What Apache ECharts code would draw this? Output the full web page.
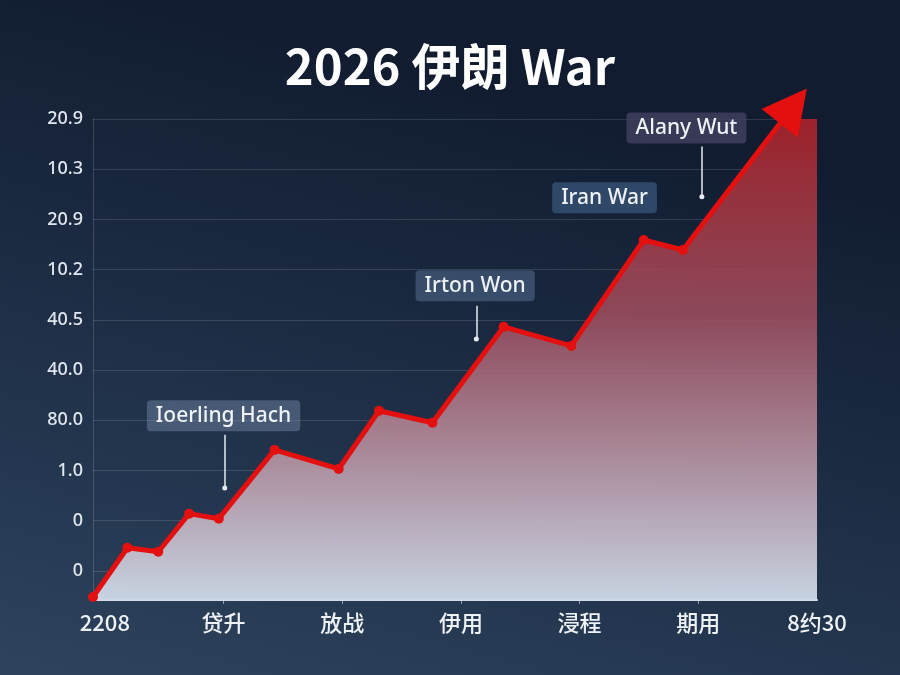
<!DOCTYPE html>
<html>
<head>
<meta charset="utf-8">
<script src="https://cdn.jsdelivr.net/npm/echarts@6/dist/echarts.min.js"></script>
<style>
  html, body { margin: 0; padding: 0; background: #15223a; }
  #main { width: 900px; height: 675px; }
</style>
</head>
<body>
<div id="main"></div>
<script>
// 坐标轴标签
var xLabels = ['2208', '贷升', '放战', '伊用', '浸程', '期用', '8约30'];
var yLabels = ['0', '0', '1.0', '80.0', '40.0', '40.5', '10.2', '20.9', '10.3', '20.9'];

// 折线点 (x 以标签序号为单位, y 以网格线为单位)
var xs = [-0.10, 0.19, 0.45, 0.71, 0.96, 1.43, 1.97, 2.31, 2.76, 3.36, 3.93, 4.54, 4.87, 5.80];
var ys = [-0.52, 0.46, 0.38, 1.14, 1.04, 2.41, 2.03, 3.19, 2.95, 4.86, 4.48, 6.59, 6.39, 9.26];
// 面积延伸到右边界
var areaEndX = 6.0;
var areaEndY = 9.8;

// 注释文字
var notes = ['Ioerling Hach', 'Irton Won', 'Iran War', 'Alany Wut'];
var noteX = [1.00, 3.12, 4.21, 4.90];
var noteY = [3.09, 5.68, 7.43, 8.82];
var noteBg = ['rgba(120,140,170,0.45)', 'rgba(95,125,160,0.45)', 'rgba(70,105,145,0.55)', 'rgba(70,65,100,0.75)'];
// 引线 [x, y起, y止]
var leaders = [[1.01, 2.71, 1.65], [3.13, 5.28, 4.62], [5.03, 8.45, 7.45]];

var myChart = echarts.init(document.getElementById('main'));

var lineData = xs.map(function (x, i) {
    if (i === xs.length - 1) {
        return { value: [x, ys[i]], symbol: 'triangle', symbolSize: [46, 44], symbolRotate: -38 };
    }
    return [x, ys[i]];
});
var areaData = xs.slice(0, xs.length - 1).map(function (x, i) { return [x, ys[i]]; });
areaData.push([areaEndX, areaEndY]);

var markPts = notes.map(function (t, i) {
    return {
        coord: [noteX[i], noteY[i]],
        label: {
            show: true, formatter: t, position: 'inside',
            color: '#eef2f7', fontSize: 21, fontWeight: 500, fontFamily: 'Noto Sans',
            backgroundColor: noteBg[i], borderRadius: 4,
            padding: [5, 9, 5, 9]
        }
    };
});
var markLns = leaders.map(function (l) {
    return [{ coord: [l[0], l[1]] }, { coord: [l[0], l[2]] }];
});

var option = {
    backgroundColor: {
        type: 'linear', x: 0.2, y: 0, x2: 0, y2: 1,
        colorStops: [
            { offset: 0, color: '#111c31' },
            { offset: 0.55, color: '#203149' },
            { offset: 1, color: '#2e435e' }
        ]
    },
    animation: false,
    title: {
        text: '2026 伊朗 War',
        left: 'center',
        top: 37,
        textStyle: { color: '#ffffff', fontSize: 49, fontWeight: 'bold', fontFamily: 'Noto Sans CJK SC' }
    },
    grid: { left: 93, right: 83, top: 119, bottom: 75 },
    xAxis: {
        type: 'value',
        min: -0.10,
        max: 6,
        axisLine: { show: true, onZero: false, lineStyle: { color: '#d3dbe6', width: 2 } },
        axisTick: { show: true, length: 4, customValues: [1, 2, 3, 4, 5], lineStyle: { color: 'rgba(220,228,238,0.6)' } },
        splitLine: { show: false },
        axisLabel: {
            customValues: [0, 1, 2, 3, 4, 5, 6],
            formatter: function (v) { return xLabels[Math.round(v)]; },
            color: '#eef2f7', fontSize: 22, fontWeight: 500, margin: 12, fontFamily: 'Noto Sans CJK SC'
        }
    },
    yAxis: {
        type: 'value',
        min: -0.58,
        max: 9,
        axisLine: { show: true, onZero: false, lineStyle: { color: 'rgba(255,255,255,0.15)' } },
        axisTick: { show: false, customValues: [0, 1, 2, 3, 4, 5, 6, 7, 8, 9] },
        splitLine: { show: true, lineStyle: { color: 'rgba(255,255,255,0.13)' } },
        axisLabel: {
            customValues: [0, 1, 2, 3, 4, 5, 6, 7, 8, 9],
            formatter: function (v) { return yLabels[Math.round(v)]; },
            color: '#e1e7ef', fontSize: 18, fontWeight: 500, margin: 10, fontFamily: 'Noto Sans'
        }
    },
    series: [
        {
            type: 'line',
            data: areaData,
            clip: true,
            symbol: 'none',
            lineStyle: { width: 0 },
            z: 1,
            areaStyle: {
                origin: 'start',
                opacity: 1,
                color: {
                    type: 'linear', x: 0, y: 0, x2: 0, y2: 1,
                    colorStops: [
                        { offset: 0, color: 'rgba(165,25,32,0.96)' },
                        { offset: 0.45, color: 'rgba(160,78,95,0.86)' },
                        { offset: 1, color: 'rgba(205,216,230,0.97)' }
                    ]
                }
            }
        },
        {
            type: 'line',
            data: lineData,
            clip: false,
            symbol: 'circle',
            symbolSize: 10,
            z: 3,
            itemStyle: { color: '#e3100f' },
            lineStyle: { color: '#e3100f', width: 5 },
            markPoint: { symbol: 'circle', symbolSize: 0, data: markPts },
            markLine: {
                silent: true,
                symbol: ['none', 'circle'],
                symbolSize: 5,
                label: { show: false },
                lineStyle: { color: '#e6ebf2', width: 1.5, type: 'solid' },
                data: markLns
            }
        }
    ]
};

myChart.setOption(option);
</script>
</body>
</html>
